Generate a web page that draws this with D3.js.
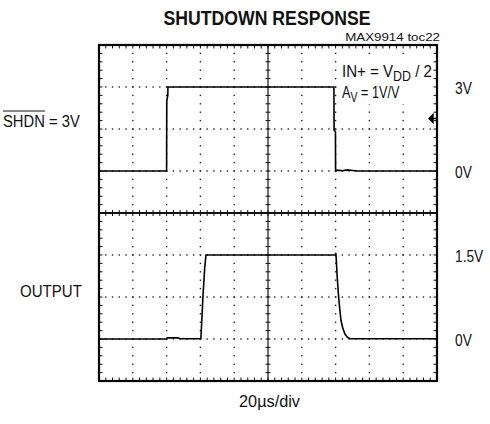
<!DOCTYPE html>
<html><head><meta charset="utf-8">
<script src="https://cdn.jsdelivr.net/npm/d3@7/dist/d3.min.js"></script>
<style>
html,body{margin:0;padding:0;background:#fff;}
text{font-family:"Liberation Sans",Arial,sans-serif;fill:#111;}
</style></head>
<body>
<svg id="chart" width="490" height="424"></svg>
<script>
// ---- data ----
const title = "SHUTDOWN RESPONSE";
const noteId = "MAX9914 toc22";
const timeLabel = "20µs/div";
const timeDomain = [0, 200]; // µs, 10 div x 20 µs

// channel 1: SHDN (1.5 V/div), time in µs, voltage in V
const shdnTime = [0, 40.0, 40.1, 40.7, 40.8, 139.0, 139.1, 139.9, 140.0, 141.0, 144.0, 147.0, 150.0, 153.0, 200];
const shdnVolt = [0, 0, 2.5, 2.7, 3.0, 3.0, 1.46, 1.40, 0, 0.03, 0.01, 0.04, 0.02, 0, 0];
// channel 2: OUTPUT (0.75 V/div)
const outTime = [0, 40.0, 40.3, 47.0, 48.0, 60.3, 61.5, 62.5, 63.3, 139.9, 140.1, 140.4, 141.0, 141.8, 142.5, 143.2, 144.2, 145.5, 147.0, 148.5, 200];
const outVolt = [0, 0, 0.02, 0.02, 0.005, 0.005, 0.75, 1.25, 1.5, 1.5, 1.53, 1.42, 1.08, 0.75, 0.52, 0.33, 0.2, 0.09, 0.03, 0.005, 0.005];

const ch1TickVals = [3, 0];
const ch1TickLabels = ["3V", "0V"];
const ch2TickVals = [1.5, 0];
const ch2TickLabels = ["1.5V", "0V"];
const ch1Name = "SHDN";
const ch1Suffix = " = 3V";
const ch2Name = "OUTPUT";

// ---- layout ----
const svg = d3.select("#chart");
const L = 99, R = 437, T = 45, B = 381;
const x = d3.scaleLinear().domain(timeDomain).range([L, R]);
const yDiv = d3.scaleLinear().domain([4, -4]).range([T, B]);
const y1 = d3.scaleLinear().domain([(4 - 1) * 1.5, (-4 - 1) * 1.5]).range([T, B]);
const y2 = d3.scaleLinear().domain([(4 + 3) * 0.75, (-4 + 3) * 0.75]).range([T, B]);
const xDiv = d3.scaleLinear().domain([0, 10]).range([L, R]);
const g = svg.append("g");

// condensed text helper (no narrow font installed: scale horizontally to target width)
function label(px, py, anchor, size, width, build, bold) {
  const grp = svg.append("g").attr("transform", `translate(${px},${py})`);
  const t = grp.append("text").attr("text-anchor", anchor).attr("font-size", size);
  if (bold) t.attr("font-weight", "bold");
  build(t);
  const w = t.node().getBBox().width;
  t.attr("transform", `scale(${width / w},1)`);
  return { grp, t, k: width / w };
}

// dotted graticule
const minorX = d3.range(0, 10.0001, 0.2);
const minorY = d3.range(-4, 4.0001, 0.2);
for (let i = 1; i < 10; i++) {
  if (i === 5) continue;
  g.selectAll(null).data(minorY).enter().append("rect")
    .attr("x", xDiv(i) - 0.7).attr("y", d => yDiv(d) - 0.7)
    .attr("width", 1.4).attr("height", 1.4).attr("fill", "#222");
}
for (let j = -3; j <= 3; j++) {
  if (j === 0) continue;
  g.selectAll(null).data(minorX).enter().append("rect")
    .attr("x", d => xDiv(d) - 0.7).attr("y", yDiv(j) - 0.7)
    .attr("width", 1.4).attr("height", 1.4).attr("fill", "#222");
}
// white box behind annotation
g.append("rect").attr("x", 339).attr("y", 60).attr("width", 95).attr("height", 44).attr("fill", "#fff");

// center crosshair
g.append("line").attr("x1", xDiv(5)).attr("x2", xDiv(5)).attr("y1", T).attr("y2", B).attr("stroke", "#111").attr("stroke-width", 1.2);
g.append("line").attr("x1", L).attr("x2", R).attr("y1", yDiv(0)).attr("y2", yDiv(0)).attr("stroke", "#111").attr("stroke-width", 1.8);
g.selectAll(null).data(minorY.filter(d => Math.abs(d) < 3.99)).enter().append("line")
  .attr("x1", xDiv(5) - 2.5).attr("x2", xDiv(5) + 2.5).attr("y1", d => yDiv(d)).attr("y2", d => yDiv(d))
  .attr("stroke", "#111").attr("stroke-width", 1);
g.selectAll(null).data(minorX.filter(d => d > 0.01 && d < 9.99)).enter().append("line")
  .attr("x1", d => xDiv(d)).attr("x2", d => xDiv(d)).attr("y1", yDiv(0) - 3).attr("y2", yDiv(0) + 3)
  .attr("stroke", "#111").attr("stroke-width", 1);
// border ticks
const bt = minorX.filter(d => d > 0.01 && d < 9.99);
g.selectAll(null).data(bt).enter().append("line")
  .attr("x1", d => xDiv(d)).attr("x2", d => xDiv(d)).attr("y1", T).attr("y2", T + 3.5).attr("stroke", "#111").attr("stroke-width", 1);
g.selectAll(null).data(bt).enter().append("line")
  .attr("x1", d => xDiv(d)).attr("x2", d => xDiv(d)).attr("y1", B).attr("y2", B - 3.5).attr("stroke", "#111").attr("stroke-width", 1);
const btY = minorY.filter(d => Math.abs(d) < 3.99);
g.selectAll(null).data(btY).enter().append("line")
  .attr("x1", L).attr("x2", L + 3.5).attr("y1", d => yDiv(d)).attr("y2", d => yDiv(d)).attr("stroke", "#111").attr("stroke-width", 1);
g.selectAll(null).data(btY).enter().append("line")
  .attr("x1", R).attr("x2", R - 3.5).attr("y1", d => yDiv(d)).attr("y2", d => yDiv(d)).attr("stroke", "#111").attr("stroke-width", 1);
// frame
g.append("rect").attr("x", L).attr("y", T).attr("width", R - L).attr("height", B - T)
  .attr("fill", "none").attr("stroke", "#000").attr("stroke-width", 2.2);

// traces
const line1 = d3.line().x(d => x(d[0])).y(d => y1(d[1]));
const line2 = d3.line().x(d => x(d[0])).y(d => y2(d[1]));
g.append("path").attr("d", line1(d3.zip(shdnTime, shdnVolt))).attr("fill", "none").attr("stroke", "#000").attr("stroke-width", 1.6);
g.append("path").attr("d", line2(d3.zip(outTime, outVolt))).attr("fill", "none").attr("stroke", "#000").attr("stroke-width", 1.6).attr("stroke-linejoin", "round");

// trigger marker
g.append("path").attr("d", `M${R - 8},${yDiv(2.25)} l4,-4 l0,8 z M${R - 5},${yDiv(2.25)} L${R},${yDiv(2.25)}`)
  .attr("fill", "#000").attr("stroke", "#000").attr("stroke-width", 1.4);

// channel axes (right labels)
const ax1 = d3.axisRight(y1).tickValues(ch1TickVals).tickFormat((d, i) => ch1TickLabels[i]).tickSize(0).tickPadding(0);
const ax2 = d3.axisRight(y2).tickValues(ch2TickVals).tickFormat((d, i) => ch2TickLabels[i]).tickSize(0).tickPadding(0);
[ax1, ax2].forEach(ax => {
  const a = svg.append("g").attr("transform", "translate(455,0)").call(ax);
  a.select(".domain").remove();
  a.selectAll("text").attr("font-size", 16).attr("dy", "0.4em").attr("fill", "#111")
    .attr("transform", "scale(0.86,1)").style("font-family", null);
});

// title + notes
label(267, 25, "middle", 20.5, 207, t => t.text(title), true);
label(440, 41, "end", 11.5, 95, t => t.text(noteId));
label(269.5, 407, "middle", 16, 61, t => t.text(timeLabel));

// annotation
label(342, 77, "start", 17, 90, t => {
  t.append("tspan").text("IN+ = V");
  t.append("tspan").attr("font-size", 14).attr("dy", 4).text("DD");
  t.append("tspan").attr("dy", -4).text(" / 2");
});
label(342, 98, "start", 17, 58, t => {
  t.append("tspan").text("A");
  t.append("tspan").attr("font-size", 14).attr("dy", 4).text("V");
  t.append("tspan").attr("dy", -4).text(" = 1V/V");
});

// left labels
const s1 = label(3, 127, "start", 16.5, 77, t => {
  t.append("tspan").attr("class", "nm").text(ch1Name);
  t.append("tspan").text(ch1Suffix);
});
const wN = s1.t.select(".nm").node().getComputedTextLength() * s1.k;
s1.grp.append("line").attr("x1", 0).attr("x2", wN).attr("y1", -16).attr("y2", -16).attr("stroke", "#111").attr("stroke-width", 1);
label(20, 297, "start", 16.5, 62, t => t.text(ch2Name));
</script>
</body></html>
